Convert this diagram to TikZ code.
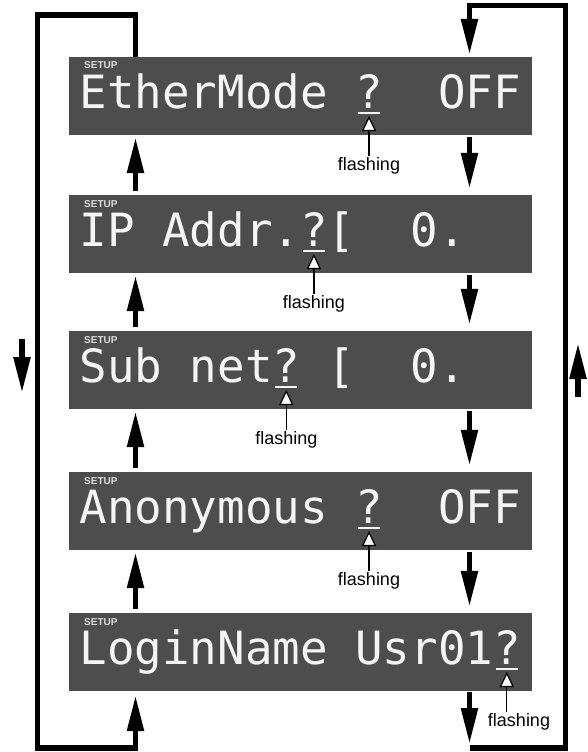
\documentclass[tikz,border=0pt]{standalone}
\usepackage{fontspec}
\setmainfont{Liberation Sans}
\newfontfamily\lcdfont{DejaVu Sans Mono}
\usetikzlibrary{arrows.meta,positioning}
\definecolor{lcdgray}{HTML}{4D4D4D}
\definecolor{lcdtext}{HTML}{F4F4F4}
\definecolor{setupgray}{HTML}{DCDCDC}

\begin{document}
\begin{tikzpicture}[x=1pt,y=-1pt]
                \tikzstyle{every node}+=[inner sep=0pt]
                \tikzstyle{panel}=[fill=lcdgray, minimum width=463pt, minimum height=78pt]
                \tikzstyle{lcd}=[anchor=base west, text=lcdtext, font=\lcdfont\fontsize{45.8}{46}\selectfont]
                \tikzstyle{setup}=[anchor=base west, text=setupgray, font=\bfseries\fontsize{10}{10}\selectfont]
                \tikzstyle{flash}=[font=\fontsize{18}{18}\selectfont, inner sep=1pt]
                \tikzstyle{cursor}=[draw=lcdtext, line width=2.5pt]
                \tikzstyle{pointer}=[draw=black, line width=1.3pt, -{Triangle[length=15pt,width=14pt,fill=white,line width=1.2pt]}]
                \tikzstyle{loopline}=[draw=black, line width=5.5pt, line join=miter]
                \tikzstyle{bigarrow}=[loopline, -{Triangle[length=36pt,width=16pt]}]
                \useasboundingbox (0,0) rectangle (588,752);
                \node[panel] (ether) at (300.5,96) {};
                \node[panel] (ipaddr) at (300.5,234) {};
                \node[panel] (subnet) at (300.5,370) {};
                \node[panel] (anon) at (300.5,511) {};
                \node[panel] (login) at (300.5,652) {};
                \node[setup] (etherSet) at (84,69) {SETUP};
                \node[setup] (ipaddrSet) at (84,207) {SETUP};
                \node[setup] (subnetSet) at (84,343) {SETUP};
                \node[setup] (anonSet) at (84,484) {SETUP};
                \node[setup] (loginSet) at (84,625) {SETUP};
                \node[lcd] (etherTxt) at (79.5,108) {EtherMode~?~~OFF};
                \node[lcd] (ipaddrTxt) at (79.5,246) {IP~Addr.?[~~0.};
                \node[lcd] (subnetTxt) at (79.5,382) {Sub~net?~[~~0.};
                \node[lcd] (anonTxt) at (79.5,523) {Anonymous~?~~OFF};
                \node[lcd] (loginTxt) at (79.5,664) {LoginName~Usr01?};
                \coordinate (cur1) at (369,113);
                \coordinate (cur2) at (313.9,251);
                \coordinate (cur3) at (286.3,387);
                \coordinate (cur4) at (369,528);
                \coordinate (cur5) at (506.8,669);
                \draw[cursor] ([xshift=-11pt]cur1) -- ([xshift=11pt]cur1);
                \draw[cursor] ([xshift=-11pt]cur2) -- ([xshift=11pt]cur2);
                \draw[cursor] ([xshift=-11pt]cur3) -- ([xshift=11pt]cur3);
                \draw[cursor] ([xshift=-11pt]cur4) -- ([xshift=11pt]cur4);
                \draw[cursor] ([xshift=-11pt]cur5) -- ([xshift=11pt]cur5);
                \node[flash] (fl1) at (369,166) {flashing};
                \node[flash] (fl2) at (313.9,304) {flashing};
                \node[flash] (fl3) at (286.3,440) {flashing};
                \node[flash] (fl4) at (369,581) {flashing};
                \node[flash] (fl5) at (519,722) {flashing};
                \draw[pointer] (fl1.north) -- ([yshift=-3pt]cur1);
                \draw[pointer] (fl2.north) -- ([yshift=-3pt]cur2);
                \draw[pointer] (fl3.north) -- ([yshift=-3pt]cur3);
                \draw[pointer] (fl4.north) -- ([yshift=-3pt]cur4);
                \draw[pointer] (fl5.north -| cur5) -- ([yshift=-3pt]cur5);
                \coordinate (lcol) at (135.5,0);
                \coordinate (rcol) at (469.5,0);
                \draw[bigarrow, shorten <=4pt, shorten >=2pt] (ipaddr.north -| lcol) -- (ether.south -| lcol);
                \draw[bigarrow, shorten <=4pt, shorten >=2pt] (subnet.north -| lcol) -- (ipaddr.south -| lcol);
                \draw[bigarrow, shorten <=4pt, shorten >=2pt] (anon.north -| lcol) -- (subnet.south -| lcol);
                \draw[bigarrow, shorten <=4pt, shorten >=2pt] (login.north -| lcol) -- (anon.south -| lcol);
                \draw[bigarrow, shorten <=2pt, shorten >=6pt] (ether.south -| rcol) -- (ipaddr.north -| rcol);
                \draw[bigarrow, shorten <=2pt, shorten >=6pt] (ipaddr.south -| rcol) -- (subnet.north -| rcol);
                \draw[bigarrow, shorten <=2pt, shorten >=6pt] (subnet.south -| rcol) -- (anon.north -| rcol);
                \draw[bigarrow, shorten <=2pt, shorten >=6pt] (anon.south -| rcol) -- (login.north -| rcol);
                \coordinate (ltr) at (135.5,15);
                \coordinate (ltl) at (37.5,15);
                \coordinate (lbl) at (37.5,748);
                \coordinate (lbr) at (135.5,748);
                \draw[bigarrow, shorten >=4pt] (ether.north -| ltr) -- (ltr) -- (ltl) -- (lbl) -- (lbr) -- (login.south -| lbr);
                \coordinate (rtl) at (469.5,5.5);
                \coordinate (rtr) at (565.5,5.5);
                \coordinate (rbr) at (565.5,748);
                \coordinate (rbl) at (469.5,748);
                \draw[bigarrow, shorten >=2pt] (rbl) -- (rbr) -- (rtr) -- (rtl) -- (ether.north -| rtl);
                \draw[bigarrow, shorten <=1pt, shorten >=4pt] (login.south -| rbl) -- (rbl);
                \coordinate (ldnA) at (22,339);
                \coordinate (ldnB) at (22,393);
                \draw[bigarrow] (ldnA) -- (ldnB);
                \coordinate (rupA) at (578,397);
                \coordinate (rupB) at (578,343);
                \draw[bigarrow] (rupA) -- (rupB);
            \end{tikzpicture}
\end{document}
